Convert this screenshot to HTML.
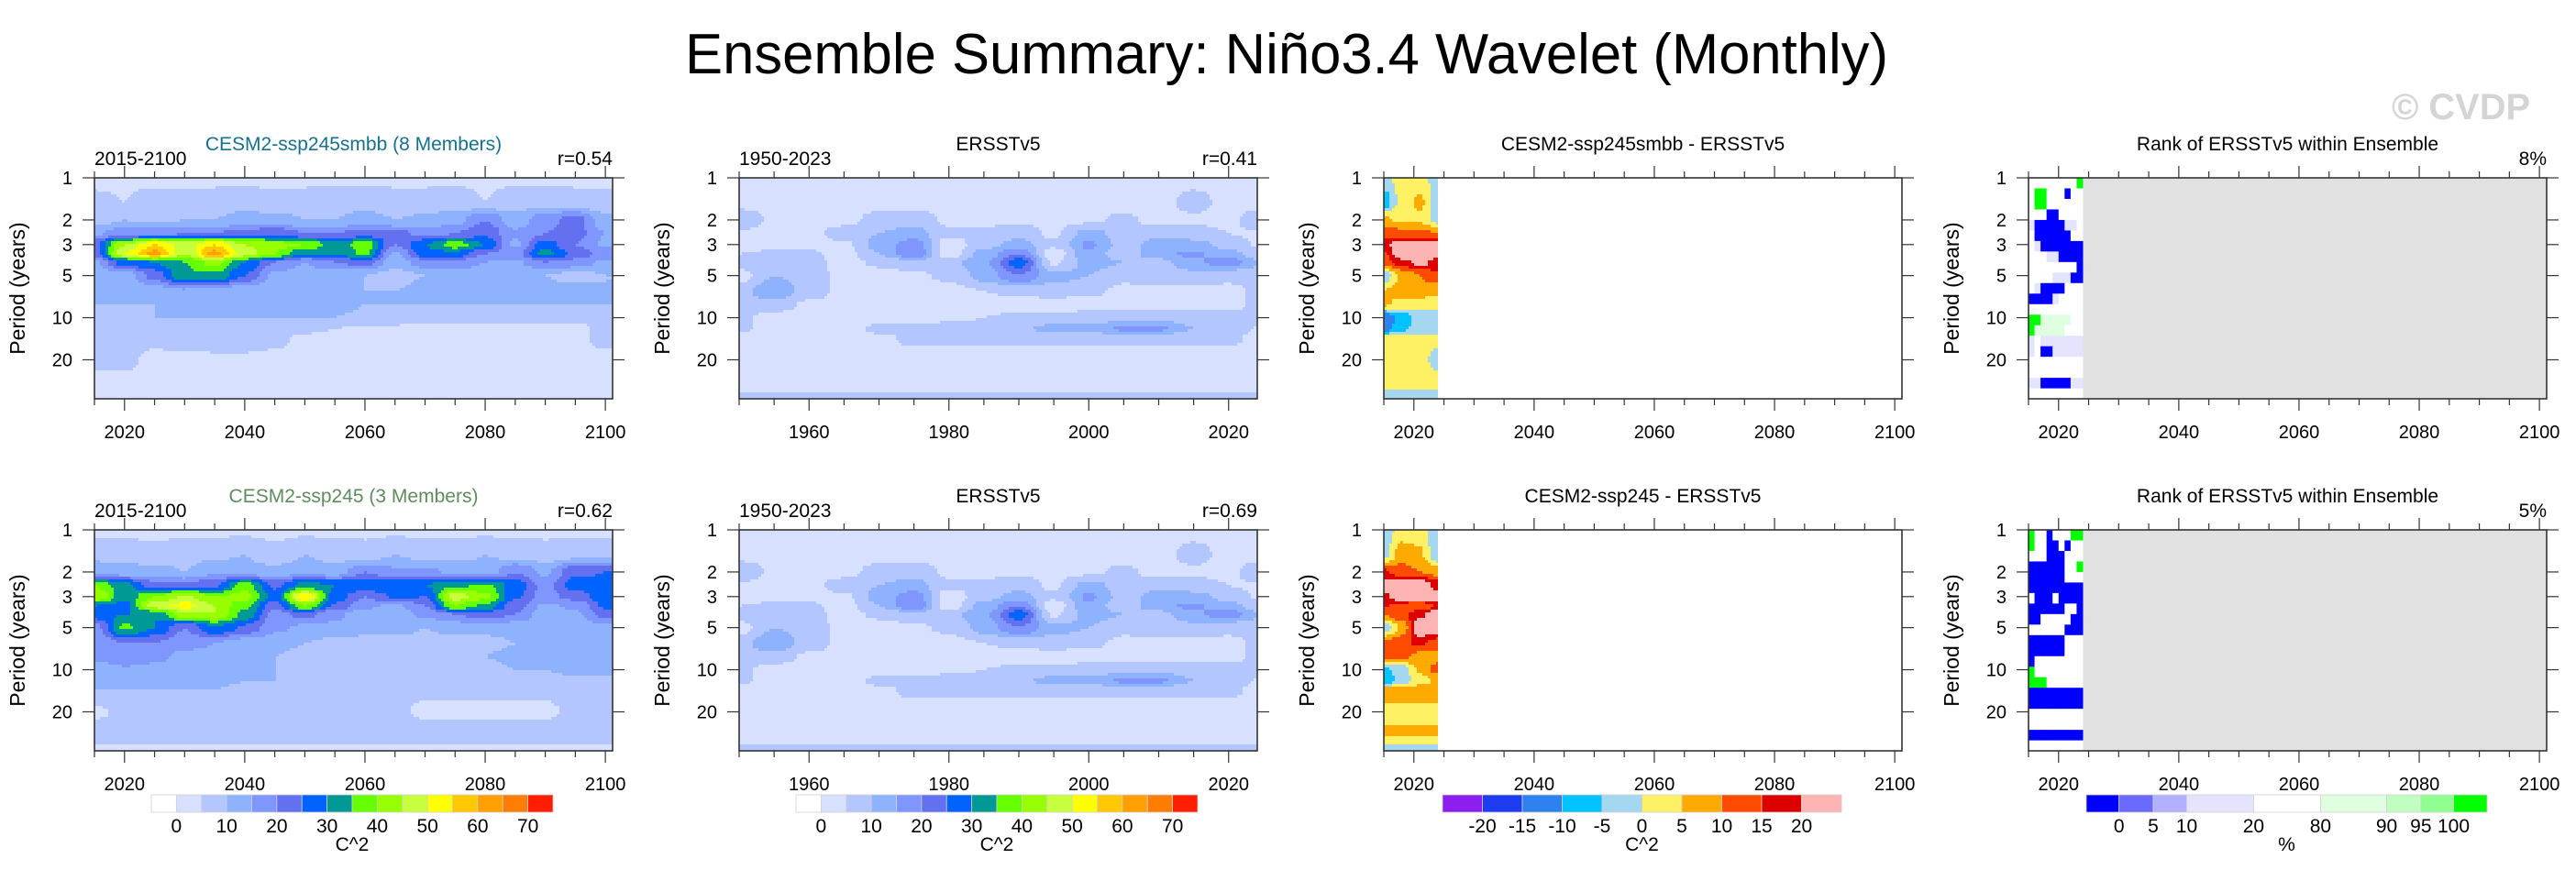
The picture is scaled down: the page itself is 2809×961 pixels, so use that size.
<!DOCTYPE html>
<html><head><meta charset="utf-8"><title>Ensemble Summary: Niño3.4 Wavelet (Monthly)</title>
<style>
html,body{margin:0;padding:0;background:#fff;}
svg{display:block;font-family:"Liberation Sans",Arial,sans-serif;}
</style></head>
<body>
<svg id="fig" width="2809" height="961" viewBox="0 0 2809 961" xmlns="http://www.w3.org/2000/svg">
<rect x="0" y="0" width="2809" height="961" fill="#fff"/>
<text x="747" y="80" font-size="62" textLength="1312" lengthAdjust="spacingAndGlyphs" fill="#000">Ensemble Summary: Niño3.4 Wavelet (Monthly)</text>
<text x="2608" y="130" font-size="40" font-weight="bold" textLength="151" lengthAdjust="spacingAndGlyphs" fill="#d4d4d4">© CVDP</text>
<g id="panels"></g>
</svg>
<script>
// ---------- DATA ----------
const periodRows = [1,1.5,2,2.5,3,3.5,4,5,6.5,8,10,12,14,20,28,38];
const modelYears = [2015,2020,2025,2030,2035,2040,2045,2050,2055,2060,2065,2070,2075,2080,2085,2090,2095,2100];
const obsYears = [1950,1955,1960,1965,1970,1975,1980,1985,1990,1995,2000,2005,2010,2015,2020,2025];
const diffYears = [2015,2018,2021,2024];

const smbbPower = [
 [4,4,4,4,4,4,4,4,4,4,4,4,4,4,4,4,4,4],
 [6,5,7,6,7,8,6,7,8,8,7,7,8,5,8,8,7,6],
 [8,10,9,10,10,12,12,10,10,12,10,11,13,20,12,18,22,12],
 [14,18,18,20,20,22,24,20,20,22,22,18,20,24,16,20,22,15],
 [24,45,55,48,55,45,42,40,32,38,20,30,38,30,14,28,20,14],
 [22,50,62,45,62,48,40,30,30,36,14,28,28,20,18,32,24,18],
 [14,28,30,35,42,30,20,15,20,22,12,18,18,15,14,20,18,14],
 [12,12,22,34,34,25,14,12,12,10,8,10,12,12,10,10,8,10],
 [10,10,12,14,12,10,10,10,10,10,10,12,12,12,14,12,12,10],
 [10,10,10,12,12,12,12,12,12,10,10,10,10,10,10,10,10,10],
 [6,8,10,10,10,10,10,10,10,9,8,6,6,6,6,6,6,7],
 [6,7,8,8,8,8,7,6,5,4,4,4,4,4,4,4,4,6],
 [6,6,6,7,8,8,6,4,4,4,4,4,4,4,4,4,4,6],
 [6,6,4,4,4,4,4,4,4,4,4,4,4,4,4,4,4,4],
 [4,4,4,4,4,4,4,4,4,4,4,4,4,4,4,4,4,4],
 [4,4,4,4,4,4,4,4,4,4,4,4,4,4,4,4,4,4]
];
const ssp245Power = [
 [4,4,4,4,4,4,4,4,4,4,4,4,4,4,4,4,4,4],
 [8,8,6,8,9,10,6,10,8,7,10,8,8,10,8,7,8,8],
 [14,12,12,10,14,12,12,14,12,20,16,16,14,12,20,14,24,25],
 [40,32,22,22,24,38,24,32,30,30,30,30,34,36,28,18,28,26],
 [45,32,40,46,40,42,28,55,28,20,26,25,48,42,26,18,22,28],
 [30,28,48,52,45,36,22,40,24,16,14,20,40,34,22,14,16,26],
 [28,30,30,44,45,34,18,22,16,12,12,16,20,22,20,12,14,22],
 [18,36,30,20,30,24,16,14,14,12,12,10,12,12,12,10,12,14],
 [15,20,20,16,15,12,12,10,8,8,8,8,8,8,10,10,12,12],
 [16,20,16,14,14,12,10,8,8,6,6,8,8,10,12,12,14,14],
 [12,14,14,12,12,12,10,8,7,6,6,6,8,8,10,10,12,12],
 [10,12,12,12,12,10,10,8,8,6,6,6,6,8,8,8,8,8],
 [10,10,10,10,10,8,8,8,8,8,6,6,6,6,6,6,8,8],
 [4,6,8,8,8,8,8,8,8,8,6,4,4,4,4,4,6,6],
 [8,8,8,8,8,8,8,8,8,8,8,8,8,8,8,8,8,8],
 [4,4,4,4,4,4,4,4,4,4,4,4,4,4,4,4,4,4]
];
const ersstPower = [
 [3,3,3,3,3,3,3,3,3,3,3,3,3,3,3,3],
 [3,3,3,3,3,3,3,3,3,3,3,3,3,7,3,3],
 [9,4,3,3,7,8,4,4,4,4,4,6,3,4,4,9],
 [4,3,3,8,10,12,6,6,8,4,12,8,8,7,5,4],
 [3,3,3,4,12,18,2,8,12,6,16,8,12,12,8,4],
 [5,6,6,3,10,20,2,12,20,2,14,6,14,16,12,6],
 [8,6,7,3,6,8,8,14,28,4,12,10,8,14,18,10],
 [3,10,8,3,3,4,6,12,20,12,10,6,8,8,6,6],
 [8,14,8,3,3,3,3,5,6,7,6,4,3,3,4,6],
 [8,8,4,3,3,3,3,3,3,3,3,3,3,3,3,7],
 [6,3,3,3,3,3,3,5,6,6,7,8,8,8,7,8],
 [6,3,3,3,6,6,9,9,9,12,12,16,16,10,8,4],
 [3,3,3,3,4,6,6,6,6,6,6,6,6,6,6,3],
 [3,3,3,3,3,3,3,3,3,3,3,3,3,3,3,3],
 [3,3,3,3,3,3,3,3,3,3,3,3,3,3,3,3],
 [6,6,6,6,6,6,6,6,6,6,6,6,6,6,6,6]
];
const diffTop = [
 [-2,2,2,-2],[-8,2,6,-3],[6,4,4,-2],[14,12,12,10],[18,25,25,25],[14,25,25,22],
 [12,18,22,18],[-3,6,10,14],[5,8,8,6],[6,3,2,2],[-15,-8,-3,-2],[-12,-6,-3,-2],
 [2,2,2,2],[2,2,2,-2],[2,2,2,2],[-2,-2,-2,-2]
];
const diffBot = [
 [-3,2,2,-3],[-2,8,6,-5],[16,12,10,8],[25,25,25,18],[18,25,25,25],[16,12,10,16],
 [10,14,18,25],[-3,6,25,25],[12,14,16,12],[12,12,8,8],[-6,-3,6,12],[-10,-3,3,6],
 [8,8,8,8],[3,3,3,3],[6,6,6,6],[-2,-2,-2,-2]
];
const rankYears = [2015,2016,2017,2018,2019,2020,2021,2022,2023,2024];
const rankTop = ["wwwwwwwwh","whhwwwaww","whhwwwwww","wwwaawwww","daaaaaddw","waaaaaaww","wdaaaaaaa","wwwddaaaa","wwwwwwwwa","wwwwdddaa","wdaaaawww","aaaadwwww","wwwwwwwww","hheeeeeww","heeeeewww","dwddddddd","dwaaddddd","wwwwwwwww","wwwwwwwww","ddaaaaadd","wwwwwwwww"];
const rankBot = ["hwwawwwhh","hwwaawaww","wwwaaawww","aaaaaawwh","aaaaaawww","aaaaaaaaa","waaawaaaa","aaaaaawwa","aawwwwwaa","wwwwwwaaa","aaaaaawww","aaaaaawww","awwwwwwww","hwwwwwwww","hhhwwwwww","aaaaaaaaa","aaaaaaaaa","wwwwwwwww","wwwwwwwww","aaaaaaaaa","wwwwwwwww"];

const powerLevels = [0,5,10,15,20,25,30,35,40,45,50,55,60,65,70];
const powerColors = ["#ffffff","#d7e1ff","#b4c6ff","#8fb2ff","#7f96ff","#6370f0","#0063ff","#009996","#66ff00","#98ff00","#c8ff3c","#ffff00","#ffc800","#ffa000","#ff7d00","#ff1e00"];
const powerTickLabels = ["0","10","20","30","40","50","60","70"];
const diffLevels = [-20,-15,-10,-5,0,5,10,15,20];
const diffColors = ["#8c1ef0","#1e3cf0","#2d82f0","#00c3ff","#a5d7f0","#fff064","#ffaa00","#ff4b00","#dc0000","#ffb4b4"];
const diffTickLabels = ["-20","-15","-10","-5","0","5","10","15","20"];
const rankCodes = "abcdwefgh";
const rankColors = ["#0000ff","#6a6aff","#b0b0ff","#e4e4ff","#ffffff","#e0ffe0","#c0ffc0","#90ff90","#00ff00"];
const rankTickLabels = ["0","5","10","20","80","90","95","100"];
const rankBoxWeights = [43,45,44,88,88,87,45,43,44];
const periodTicks = [1,2,3,5,10,20];

// ---------- LAYOUT ----------
const NS = "http://www.w3.org/2000/svg";
const root = document.getElementById("panels");
const X0 = [103,806,1509,2212], W = 565, Y0 = [194,578], H = 241;
const PMAX = 38, OCT = Math.log2(PMAX);
const modelRange = [2015, 2101.2], obsRange = [1950, 2024.1];

function mk(tag, attrs, parent){
  const el = document.createElementNS(NS, tag);
  for (const k in attrs) el.setAttribute(k, attrs[k]);
  (parent || root).appendChild(el);
  return el;
}
function yScale(row, p){ return Y0[row] + Math.log2(p) / OCT * H; }
function xScale(col, range, yr){ return X0[col] + (yr - range[0]) / (range[1] - range[0]) * W; }
function levelIndex(levels, v){ let i = 0; while (i < levels.length && v >= levels[i]) i++; return i; }
function cosw(t){ return (1 - Math.cos(Math.PI * t)) / 2; }
function interp(grid, years, yr, p){
  const lp = Math.log2(p);
  let r = 0; while (r < periodRows.length - 2 && Math.log2(periodRows[r+1]) < lp) r++;
  const l0 = Math.log2(periodRows[r]), l1 = Math.log2(periodRows[r+1]);
  let tr = Math.min(1, Math.max(0, (lp - l0) / (l1 - l0)));
  let c = 0; while (c < years.length - 2 && years[c+1] < yr) c++;
  let tc = Math.min(1, Math.max(0, (yr - years[c]) / (years[c+1] - years[c])));
  tr = cosw(tr); tc = cosw(tc);
  const a = grid[r][c] * (1 - tc) + grid[r][c+1] * tc;
  const b = grid[r+1][c] * (1 - tc) + grid[r+1][c+1] * tc;
  return a * (1 - tr) + b * tr;
}

function addRun(g, x, y, w, h, color){
  const rr = mk("rect", {x: x, y: y, width: w + 0.6, height: h + 0.6, fill: color}, g);
  
  
}

function drawField(g, row, col, range, grid, years, levels, colors, yrMax){
  const step = 3;
  const xEnd = yrMax ? Math.min(W, xScale(col, range, yrMax) - X0[col]) : W;
  for (let y = 0; y < H; y += step){
    const hh = Math.min(step, H - y);
    const p = Math.pow(2, (y + hh / 2) / H * OCT);
    let runStart = 0, runColor = null;
    for (let x = 0; x < xEnd; x += step){
      const yr = range[0] + (x + step / 2) / W * (range[1] - range[0]);
      const color = colors[levelIndex(levels, interp(grid, years, yr, p))];
      if (color !== runColor){
        if (runColor !== null) addRun(g, X0[col] + runStart, Y0[row] + y, x - runStart, hh, runColor);
        runStart = x; runColor = color;
      }
    }
    if (runColor !== null) addRun(g, X0[col] + runStart, Y0[row] + y, xEnd - runStart - 0.6, hh, runColor);
  }
}

function drawRank(g, row, col, codes){
  const gray = mk("rect", {x: xScale(col, modelRange, 2024), y: Y0[row], width: X0[col] + W - xScale(col, modelRange, 2024), height: H, fill: "#e1e1e1"}, g);
  
  
  const nR = codes.length;
  for (let r = 0; r < nR; r++){
    const yt = Y0[row] + r * 0.25 / OCT * H;
    const yb = Math.min(Y0[row] + H, Y0[row] + (r + 1) * 0.25 / OCT * H);
    for (let c = 0; c < codes[r].length; c++){
      const ci = rankCodes.indexOf(codes[r][c]);
      const xl = xScale(col, modelRange, rankYears[c]);
      const xr = xScale(col, modelRange, rankYears[c+1]);
      const cell = mk("rect", {x: xl, y: yt, width: xr - xl + 0.5, height: yb - yt + 0.5, fill: rankColors[ci]}, g);
      
      
    }
  }
}

function drawAxes(g, row, col, range, majors, minors, showYTitle){
  const frame = mk("rect", {x: X0[col], y: Y0[row], width: W, height: H, fill: "none", stroke: "#333", "stroke-width": 1.6}, g);
  
  
  minors.forEach(yr => {
    const x = xScale(col, range, yr);
    const isMajor = majors.indexOf(yr) >= 0;
    const len = isMajor ? 13 : 7;
    const t1 = mk("line", {x1: x, x2: x, y1: Y0[row], y2: Y0[row] - len, stroke: "#333", "stroke-width": 1.2}, g);
    
    
    const t2 = mk("line", {x1: x, x2: x, y1: Y0[row] + H, y2: Y0[row] + H + len, stroke: "#333", "stroke-width": 1.2}, g);
    
    
  });
  majors.forEach(yr => {
    const lab = mk("text", {x: xScale(col, range, yr), y: Y0[row] + H + 43, "font-size": 20, "text-anchor": "middle", fill: "#000"}, g);
    
    
    lab.textContent = yr;
  });
  periodTicks.forEach(p => {
    const y = yScale(row, p);
    const l1 = mk("line", {x1: X0[col] - 13, x2: X0[col], y1: y, y2: y, stroke: "#333", "stroke-width": 1.2}, g);
    
    
    const l2 = mk("line", {x1: X0[col] + W, x2: X0[col] + W + 13, y1: y, y2: y, stroke: "#333", "stroke-width": 1.2}, g);
    
    
    const lab = mk("text", {x: X0[col] - 24, y: y + 7, "font-size": 20, "text-anchor": "end", fill: "#000"}, g);
    
    
    lab.textContent = p;
  });
  if (showYTitle){
    const cx = X0[col] - 76, cy = Y0[row] + H / 2;
    const t = mk("text", {x: cx, y: cy, "font-size": 23, "text-anchor": "middle", transform: "rotate(-90 " + cx + " " + cy + ")", fill: "#000"}, g);
    
    
    t.textContent = "Period (years)";
  }
}

function drawTitles(g, row, col, left, center, centerColor, right){
  if (left){
    const t = mk("text", {x: X0[col], y: Y0[row] - 14, "font-size": 21, fill: "#000"}, g);
    
    
    t.textContent = left;
  }
  const c = mk("text", {x: X0[col] + W / 2, y: Y0[row] - 30, "font-size": 21, "text-anchor": "middle", fill: centerColor}, g);
  
  
  c.textContent = center;
  if (right){
    const r = mk("text", {x: X0[col] + W, y: Y0[row] - 14, "font-size": 21, "text-anchor": "end", fill: "#000"}, g);
    
    
    r.textContent = right;
  }
}

function drawColorbar(x0, x1, colors, weights, labels, unit){
  const g = mk("g", {});
  
  
  const tot = weights.reduce((a, b) => a + b, 0);
  let x = x0;
  const bounds = [];
  colors.forEach((c, i) => {
    const w = (x1 - x0) * weights[i] / tot;
    const b = mk("rect", {x: x, y: 867, width: w, height: 19, fill: c, stroke: "#d0d0d0", "stroke-width": 0.8}, g);
    
    
    x += w; bounds.push(x);
  });
  const every = (labels.length === 8 && colors.length === 16) ? 2 : 1;
  labels.forEach((lab, i) => {
    const bx = bounds[every === 2 ? i * 2 : i];
    const t = mk("text", {x: bx, y: 908, "font-size": 21, "text-anchor": "middle", fill: "#000"}, g);
    
    
    t.textContent = lab;
  });
  const u = mk("text", {x: (x0 + x1) / 2, y: 928, "font-size": 21, "text-anchor": "middle", fill: "#000"}, g);
  
  
  u.textContent = unit;
}

const modelMajors = [2020,2040,2060,2080,2100];
const modelMinors = []; for (let y = 2015; y <= 2100; y += 5) modelMinors.push(y);
const obsMajors = [1960,1980,2000,2020];
const obsMinors = []; for (let y = 1950; y <= 2020; y += 5) obsMinors.push(y);

[0,1].forEach(row => {
  let g = mk("g", {});
  
  
  drawField(g, row, 0, modelRange, row === 0 ? smbbPower : ssp245Power, modelYears, powerLevels, powerColors);
  drawAxes(g, row, 0, modelRange, modelMajors, modelMinors, true);
  drawTitles(g, row, 0, "2015-2100", row === 0 ? "CESM2-ssp245smbb (8 Members)" : "CESM2-ssp245 (3 Members)", row === 0 ? "#17708c" : "#5e8c5e", row === 0 ? "r=0.54" : "r=0.62");
  g = mk("g", {});
  
  
  drawField(g, row, 1, obsRange, ersstPower, obsYears, powerLevels, powerColors);
  drawAxes(g, row, 1, obsRange, obsMajors, obsMinors, true);
  drawTitles(g, row, 1, "1950-2023", "ERSSTv5", "#000", row === 0 ? "r=0.41" : "r=0.69");
  g = mk("g", {});
  
  
  drawField(g, row, 2, modelRange, row === 0 ? diffTop : diffBot, diffYears, diffLevels, diffColors, 2024);
  drawAxes(g, row, 2, modelRange, modelMajors, modelMinors, true);
  drawTitles(g, row, 2, null, row === 0 ? "CESM2-ssp245smbb - ERSSTv5" : "CESM2-ssp245 - ERSSTv5", "#000", null);
  g = mk("g", {});
  
  
  drawRank(g, row, 3, row === 0 ? rankTop : rankBot);
  drawAxes(g, row, 3, modelRange, modelMajors, modelMinors, true);
  drawTitles(g, row, 3, null, "Rank of ERSSTv5 within Ensemble", "#000", row === 0 ? "8%" : "5%");
});

const ones16 = powerColors.map(() => 1), ones10 = diffColors.map(() => 1);
drawColorbar(165, 603, powerColors, ones16, powerTickLabels, "C^2");
drawColorbar(868, 1306, powerColors, ones16, powerTickLabels, "C^2");
drawColorbar(1573, 2008, diffColors, ones10, diffTickLabels, "C^2");
drawColorbar(2275, 2712, rankColors, rankBoxWeights, rankTickLabels, "%");
</script>
</body></html>
